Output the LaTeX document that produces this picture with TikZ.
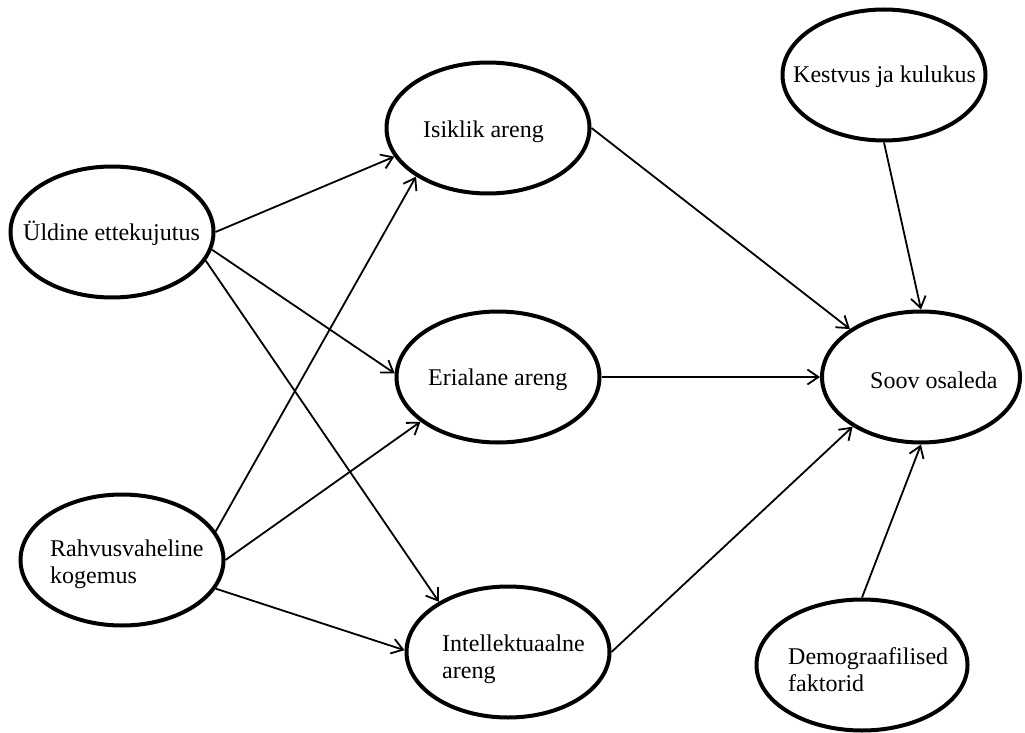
\documentclass[tikz,border=0pt]{standalone}
\usepackage{fontspec}
\setmainfont{Liberation Serif}
\usetikzlibrary{shapes.geometric,arrows.meta}
\begin{document}
\begin{tikzpicture}[x=1pt,y=-1pt,
  oval/.style={draw,ellipse,line width=4pt,minimum width=203pt,minimum height=131pt,inner sep=0pt},
  lbl/.style={anchor=base west,inner sep=0pt,font=\fontsize{24}{26.5}\selectfont,align=left},
  conn/.style={line width=1.8pt,-{Straight Barb[length=11pt,width=15pt,line width=1.8pt]}}]
\useasboundingbox (0,0) rectangle (1025,733);
% ellipses
\node[oval] (U) at (112,232) {};
\node[oval] (R) at (122,560) {};
\node[oval] (I) at (488,128) {};
\node[oval] (E) at (498,377) {};
\node[oval] (N) at (508,652) {};
\node[oval] (K) at (884,75) {};
\node[oval,minimum width=198pt] (S) at (921,377) {};
\node[oval,minimum width=211pt] (D) at (862,665) {};
% labels
\node[lbl] (Ut) at (23,240) {Üldine ettekujutus};
\node[lbl] (Rt) at (50,583) {Rahvusvaheline\\kogemus};
\node[lbl] (It) at (423,138) {Isiklik areng};
\node[lbl] (Et) at (428,385) {Erialane areng};
\node[lbl] (Nt) at (442,678) {Intellektuaalne\\areng};
\node[lbl] (Kt) at (793,83) {Kestvus ja kulukus};
\node[lbl] (St) at (870,388) {Soov osaleda};
\node[lbl] (Dt) at (788,691) {Demograafilised\\faktorid};
% connectors
\draw[conn] (U.0) -- (I.-163);
\draw[conn] (U.-10) -- (E.178);
\draw[conn] (U.-17.5) -- (N.144.5);
\draw[conn] (R.17.4) -- (I.-146);
\draw[conn] (R.0) -- (E.-150);
\draw[conn] (R.-17.4) -- (N.179);
\draw[conn] (I.0) -- (S.146);
\draw[conn] (E.0) -- (S.180);
\draw[conn] (N.0) -- (S.-144);
\draw[conn] (K.-90) -- (S.90);
\draw[conn] (D.90) -- (S.-90);
\end{tikzpicture}
\end{document}
